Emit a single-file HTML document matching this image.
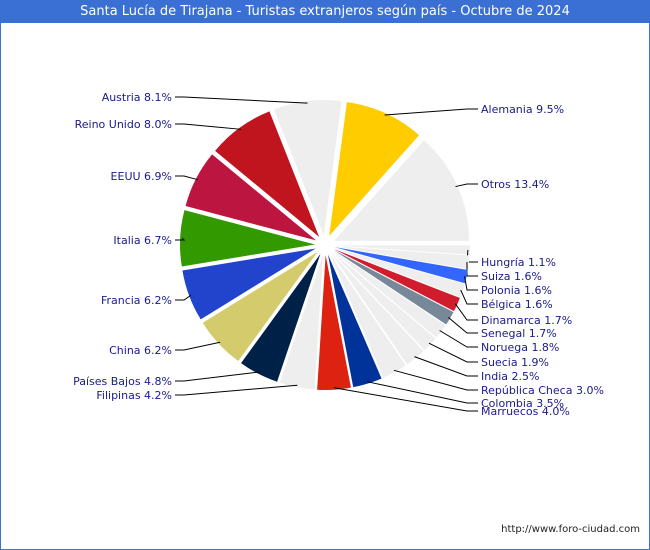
<!DOCTYPE html>
<html><head><meta charset="utf-8"><style>
body{margin:0;width:650px;height:550px;overflow:hidden;background:#fff;font-family:"DejaVu Sans","Liberation Sans",sans-serif}
#frame{position:absolute;left:0;top:0;width:648px;height:548px;border:1px solid #3a70d4}
#title{position:absolute;left:0;top:0;width:650px;height:23px;background:#3a70d4;color:#fff;font-size:13px;line-height:23px;text-align:center}
</style></head><body>
<div id="frame"></div>
<div id="title">Santa Lucía de Tirajana - Turistas extranjeros según país - Octubre de 2024</div>
<svg id="chart" width="650" height="550" style="position:absolute;left:0;top:0"></svg>
<script>
// clockwise from 3 o'clock
const categories=["Hungría","Suiza","Polonia","Bélgica","Dinamarca","Senegal","Noruega","Suecia","India","República Checa","Colombia","Marruecos","Filipinas","Países Bajos","China","Francia","Italia","EEUU","Reino Unido","Austria","Alemania","Otros"];
const values=[1.1,1.6,1.6,1.6,1.7,1.7,1.8,1.9,2.5,3.0,3.5,4.0,4.2,4.8,6.2,6.2,6.7,6.9,8.0,8.1,9.5,13.4];
const colors=["#eeeeee","#eeeeee","#3366ff","#eeeeee","#d01c2c","#778899","#eeeeee","#eeeeee","#eeeeee","#eeeeee","#003399","#dd2211","#eeeeee","#002147","#d4cc6c","#2244cc","#339900","#bb1540","#c0141f","#eeeeee","#ffcc00","#eeeeee"];
const labelY=[262,276,290,304,320,333,347,362,376,390,403,411,395,381,350,300,240,176,124,97,109,184];
const labelSide=["R","R","R","R","R","R","R","R","R","R","R","R","L","L","L","L","L","L","L","L","R","R"];
const cx=325,cy=245,R=135,EX=10;
const svg=document.getElementById('chart');
const NS="http://www.w3.org/2000/svg";
const total=values.reduce((a,b)=>a+b,0);
let a0=0;
values.forEach((v,i)=>{
  const a1=a0+v/total*2*Math.PI, am=(a0+a1)/2;
  const ox=cx+EX*Math.cos(am), oy=cy+EX*Math.sin(am);
  const x0=ox+R*Math.cos(a0),y0=oy+R*Math.sin(a0),x1=ox+R*Math.cos(a1),y1=oy+R*Math.sin(a1);
  const p=document.createElementNS(NS,'path');
  p.setAttribute('d',`M${ox},${oy}L${x0},${y0}A${R},${R} 0 ${a1-a0>Math.PI?1:0} 1 ${x1},${y1}Z`);
  p.setAttribute('fill',colors[i]);
  
  
  svg.appendChild(p);
  const px=ox+(R-2)*Math.cos(am), py=oy+(R-2)*Math.sin(am);
  const ly=labelY[i], right=labelSide[i]==="R";
  const tx=right?481:172;
  const ex=right?(tx-14):(tx+12);
  const l=document.createElementNS(NS,'polyline');
  l.setAttribute('points',`${px},${py} ${ex},${ly} ${right?tx-3:tx+3},${ly}`);
  l.setAttribute('fill','none');l.setAttribute('stroke','#000');l.setAttribute('stroke-width','1');
  
  
  svg.appendChild(l);
  const t=document.createElementNS(NS,'text');
  t.setAttribute('x',tx);t.setAttribute('y',ly+4);
  t.setAttribute('text-anchor',right?'start':'end');
  t.setAttribute('font-size','11');t.setAttribute('fill','#1a1a8c');
  t.setAttribute('font-family','"DejaVu Sans","Liberation Sans",sans-serif');
  t.textContent=categories[i]+' '+values[i].toFixed(1)+'%';
  
  
  svg.appendChild(t);
  a0=a1;
});
const f=document.createElementNS(NS,'text');
f.setAttribute('x',640);f.setAttribute('y',532);f.setAttribute('text-anchor','end');
f.setAttribute('font-size','10');f.setAttribute('fill','#222');
f.setAttribute('font-family','"DejaVu Sans","Liberation Sans",sans-serif');
f.textContent='http://www.foro-ciudad.com';


svg.appendChild(f);
</script>
</body></html>
